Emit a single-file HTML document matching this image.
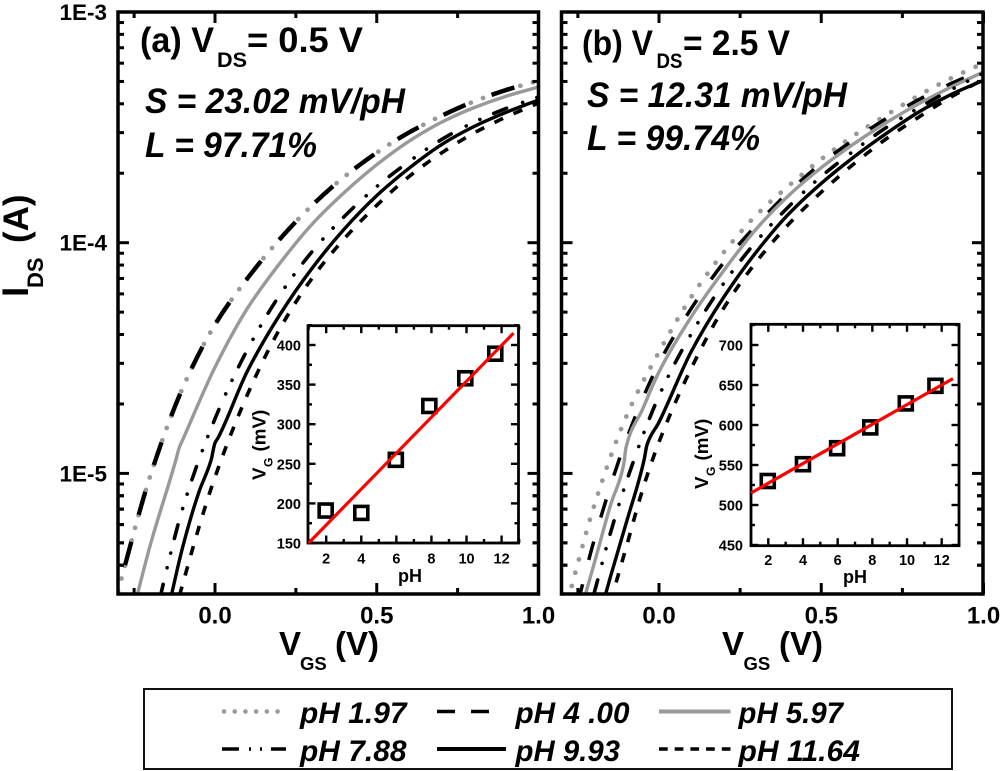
<!DOCTYPE html>
<html lang="en">
<head>
<meta charset="utf-8">
<title>IDS vs VGS at two drain voltages</title>
<style>
html,body{margin:0;padding:0;background:#fff;}
svg{display:block;}
text{font-family:"Liberation Sans",Arial,sans-serif;font-weight:bold;fill:#000;}
.it{font-style:italic;}
</style>
</head>
<body>
<svg id="chart" xmlns="http://www.w3.org/2000/svg" width="1000" height="771" viewBox="0 0 1000 771">
  <rect width="1000" height="771" fill="#fff"/>
  <defs>
    <clipPath id="clipA"><rect x="118" y="12" width="420.5" height="582"/></clipPath>
    <clipPath id="clipB"><rect x="561.5" y="12" width="421.5" height="582"/></clipPath>
  </defs>
  <g id="panelA"></g>
  <g id="panelB"></g>

  <text font-size="37" transform="translate(28,297) rotate(-90)">I</text>
  <text font-size="22" transform="translate(43,288) rotate(-90)">DS</text>
  <text font-size="35" transform="translate(28,243) rotate(-90)">(A)</text>

  <text x="140" y="52" font-size="35" textLength="74" lengthAdjust="spacingAndGlyphs">(a) V</text>
  <text x="217" y="67" font-size="21.5" textLength="30" lengthAdjust="spacingAndGlyphs">DS</text>
  <text x="247" y="52" font-size="35.5" textLength="116" lengthAdjust="spacingAndGlyphs">= 0.5 V</text>
  <text class="it" x="145" y="113" font-size="35" textLength="260" lengthAdjust="spacingAndGlyphs">S = 23.02 mV/pH</text>
  <text class="it" x="145" y="157" font-size="35" textLength="172" lengthAdjust="spacingAndGlyphs">L = 97.71%</text>

  <text x="582" y="55" font-size="35" textLength="71" lengthAdjust="spacingAndGlyphs">(b) V</text>
  <text x="656.5" y="68" font-size="21.5" textLength="26" lengthAdjust="spacingAndGlyphs">DS</text>
  <text x="683" y="55" font-size="35" textLength="107" lengthAdjust="spacingAndGlyphs">= 2.5 V</text>
  <text class="it" x="587" y="107" font-size="35" textLength="260" lengthAdjust="spacingAndGlyphs">S = 12.31 mV/pH</text>
  <text class="it" x="587" y="150" font-size="35" textLength="173" lengthAdjust="spacingAndGlyphs">L = 99.74%</text>

  <text x="279" y="655" font-size="33">V</text>
  <text x="300" y="670" font-size="18.5">GS</text>
  <text x="335" y="655" font-size="33">(V)</text>
  <text x="722" y="655" font-size="33">V</text>
  <text x="743.5" y="670" font-size="18.5">GS</text>
  <text x="779" y="655" font-size="33">(V)</text>

  <g>
    <rect x="144" y="689" width="808" height="80" fill="#fff" stroke="#111" stroke-width="2"/>
    <line x1="224" y1="711.5" x2="288" y2="711.5" stroke="#999" stroke-width="4.5" stroke-linecap="round" stroke-dasharray="0.1 10.6"/>
    <text class="it" x="300" y="723" font-size="30" textLength="106.5" lengthAdjust="spacingAndGlyphs">pH 1.97</text>
    <line x1="437" y1="711.5" x2="489" y2="711.5" stroke="#000" stroke-width="3.5" stroke-dasharray="18 16 18"/>
    <text class="it" x="515.5" y="723" font-size="30" textLength="114" lengthAdjust="spacingAndGlyphs">pH 4 .00</text>
    <line x1="659" y1="711.5" x2="730.5" y2="711.5" stroke="#999" stroke-width="4"/>
    <text class="it" x="738.5" y="723" font-size="30" textLength="104.5" lengthAdjust="spacingAndGlyphs">pH 5.97</text>
    <line x1="222" y1="749" x2="286" y2="749" stroke="#000" stroke-width="3.5" stroke-dasharray="17 10 2 9 2 9 16"/>
    <text class="it" x="300" y="761" font-size="30" textLength="106.5" lengthAdjust="spacingAndGlyphs">pH 7.88</text>
    <line x1="437" y1="749" x2="506" y2="749" stroke="#000" stroke-width="4"/>
    <text class="it" x="515.5" y="761" font-size="30" textLength="104.5" lengthAdjust="spacingAndGlyphs">pH 9.93</text>
    <line x1="659" y1="749" x2="730.5" y2="749" stroke="#000" stroke-width="3.5" stroke-dasharray="8.7 7"/>
    <text class="it" x="738.5" y="761" font-size="30" textLength="121.5" lengthAdjust="spacingAndGlyphs">pH 11.64</text>
  </g>
</svg>
<script>
// ---- Main plot axes data ----
const xTickValues = [0, 0.5, 1];
const xTickLabels = ['0.0', '0.5', '1.0'];
const xMinorValues = [-0.25, 0.25, 0.75];
const yTickLogs = [-3, -4, -5];
const yTickLabels = ['1E-3', '1E-4', '1E-5'];

// ---- Panel (a): V_GS in volts, log10(I_DS in amps) ----
const aV197 = [-0.3,-0.2,-0.1,0,0.1,0.2,0.3,0.4,0.5,0.6,0.7,0.8,0.9,1.0];
const aI197 = [-5.51,-5.01,-4.63,-4.355,-4.155,-3.985,-3.838,-3.714,-3.61,-3.522,-3.45,-3.388,-3.338,-3.298];
const aV400 = [-0.3,-0.2,-0.1,0,0.1,0.2,0.3,0.4,0.5,0.6,0.7,0.8,0.9,1.0];
const aI400 = [-5.51,-5.01,-4.63,-4.355,-4.155,-3.985,-3.838,-3.714,-3.61,-3.522,-3.45,-3.388,-3.338,-3.298];
const aV597 = [-0.25,-0.2,-0.121,-0.111,-0.1,0,0.1,0.2,0.3,0.4,0.5,0.6,0.7,0.8,0.9,1.0];
const aI597 = [-5.58,-5.31,-4.942,-4.89,-4.855,-4.54,-4.285,-4.09,-3.92,-3.782,-3.662,-3.56,-3.478,-3.415,-3.365,-3.325];
const aV788 = [-0.17,-0.15,-0.1,0,0.1,0.2,0.3,0.4,0.5,0.6,0.7,0.8,0.9,1.0];
const aI788 = [-5.54,-5.42,-5.152,-4.763,-4.464,-4.227,-4.039,-3.886,-3.757,-3.648,-3.553,-3.478,-3.418,-3.368];
const aV993 = [-0.14,-0.1,-0.05,-0.012,0,0.009,0.1,0.2,0.3,0.4,0.5,0.6,0.7,0.8,0.9,1.0];
const aI993 = [-5.56,-5.32,-5.082,-4.942,-4.868,-4.847,-4.557,-4.313,-4.111,-3.94,-3.796,-3.677,-3.575,-3.497,-3.435,-3.381];
const aV1164 = [-0.11,-0.05,0,0.1,0.2,0.3,0.4,0.5,0.6,0.7,0.8,0.9,1.0];
const aI1164 = [-5.53,-5.235,-5.016,-4.659,-4.374,-4.154,-3.982,-3.838,-3.713,-3.611,-3.525,-3.455,-3.395];

// ---- Panel (b) ----
const bV197 = [-0.28,-0.2,-0.1,0,0.1,0.2,0.3,0.4,0.5,0.6,0.7,0.8,0.9,1.0];
const bI197 = [-5.545,-5.141,-4.751,-4.474,-4.234,-4.041,-3.88,-3.753,-3.638,-3.536,-3.447,-3.362,-3.287,-3.222];
const bV400 = [-0.25,-0.2,-0.1,0,0.1,0.2,0.3,0.4,0.5,0.6,0.7,0.8,0.9,1.0];
const bI400 = [-5.56,-5.29,-4.851,-4.523,-4.284,-4.085,-3.924,-3.78,-3.656,-3.554,-3.462,-3.38,-3.31,-3.25];
const bV597 = [-0.25,-0.2,-0.15,-0.108,-0.102,-0.05,0,0.1,0.2,0.3,0.4,0.5,0.6,0.7,0.8,0.9,1.0];
const bI597 = [-5.64,-5.392,-5.14,-4.955,-4.89,-4.72,-4.56,-4.32,-4.12,-3.94,-3.795,-3.675,-3.572,-3.48,-3.398,-3.325,-3.26];
const bV788 = [-0.2,-0.15,-0.1,0,0.1,0.2,0.3,0.4,0.5,0.6,0.7,0.8,0.9,1.0];
const bI788 = [-5.52,-5.26,-5.034,-4.664,-4.394,-4.175,-3.994,-3.843,-3.713,-3.602,-3.501,-3.416,-3.337,-3.265];
const bV993 = [-0.17,-0.15,-0.1,-0.046,-0.037,0,0.1,0.2,0.3,0.4,0.5,0.6,0.7,0.8,0.9,1.0];
const bI993 = [-5.55,-5.45,-5.21,-4.942,-4.876,-4.778,-4.47,-4.235,-4.04,-3.875,-3.743,-3.629,-3.527,-3.434,-3.358,-3.296];
const bV1164 = [-0.15,-0.1,-0.05,0,0.1,0.2,0.3,0.4,0.5,0.6,0.7,0.8,0.9,1.0];
const bI1164 = [-5.56,-5.315,-5.068,-4.864,-4.543,-4.282,-4.083,-3.919,-3.781,-3.659,-3.55,-3.456,-3.368,-3.292];

// ---- Insets ----
const insetPh = [1.97, 4.00, 5.97, 7.88, 9.93, 11.64];
const insetAVg = [191, 188, 255, 323, 358, 389];
const insetBVg = [530, 551, 571, 597, 627, 649];
const insetAFitPh = [1.0, 12.68];
const insetAFitVg = [150, 415];
const insetBFitPh = [1.0, 12.65];
const insetBFitVg = [515, 658];
const insetXTicks = [2, 4, 6, 8, 10, 12];
const insetXMinor = [1, 3, 5, 7, 9, 11, 13];
const insetATicks = [150, 200, 250, 300, 350, 400];
const insetAMinor = [175, 225, 275, 325, 375, 425];
const insetBTicks = [450, 500, 550, 600, 650, 700];
const insetBMinor = [475, 525, 575, 625, 675, 725];

const NS = 'http://www.w3.org/2000/svg';
function mk(parent, tag, attrs, txt) {
  const el = document.createElementNS(NS, tag);
  for (const k in attrs) el.setAttribute(k, attrs[k]);
  if (txt !== undefined) el.textContent = txt;
  parent.appendChild(el);
  return el;
}
// Monotone cubic through points ordered by x (Fritsch-Butland tangents).
function smoothPath(pts) {
  const n = pts.length, d = [], m = [];
  for (let i = 0; i < n - 1; i++) d[i] = (pts[i + 1][1] - pts[i][1]) / (pts[i + 1][0] - pts[i][0]);
  m[0] = d[0];
  m[n - 1] = d[n - 2];
  for (let i = 1; i < n - 1; i++) {
    const h0 = pts[i][0] - pts[i - 1][0], h1 = pts[i + 1][0] - pts[i][0];
    const w1 = 2 * h1 + h0, w2 = h1 + 2 * h0;
    m[i] = (d[i - 1] * d[i] <= 0) ? 0 : (w1 + w2) / (w1 / d[i - 1] + w2 / d[i]);
  }
  let path = 'M' + pts[0][0].toFixed(2) + ' ' + pts[0][1].toFixed(2);
  for (let i = 0; i < n - 1; i++) {
    const h = (pts[i + 1][0] - pts[i][0]) / 3;
    path += 'C' + (pts[i][0] + h).toFixed(2) + ' ' + (pts[i][1] + m[i] * h).toFixed(2) + ' ' +
      (pts[i + 1][0] - h).toFixed(2) + ' ' + (pts[i + 1][1] - m[i + 1] * h).toFixed(2) + ' ' +
      pts[i + 1][0].toFixed(2) + ' ' + pts[i + 1][1].toFixed(2);
  }
  return path;
}

const yMain = function (log) { return 12 + (-3 - log) * 230.7; };

function drawPanel(host, key, clipId, x0, pxPerV, left, right, series) {
  const xMain = function (v) { return x0 + v * pxPerV; };
  const top = 12, bottom = 594;
  const curves = mk(host, 'g', { 'clip-path': 'url(#' + clipId + ')' });
  
  
  series.forEach(function (s) {
    const pts = s.v.map(function (v, i) { return [xMain(v), yMain(s.i[i])]; });
    const path = mk(curves, 'path', {
      d: smoothPath(pts), fill: 'none', stroke: s.color, 'stroke-width': s.width,
      'stroke-linecap': s.cap, 'stroke-dasharray': s.dash, 'stroke-dashoffset': s.off
    });
    
    
  });
  const ticks = mk(host, 'g', { stroke: '#000', 'stroke-width': 3 });
  
  
  xTickValues.forEach(function (v) {
    mk(ticks, 'line', { x1: xMain(v), x2: xMain(v), y1: bottom, y2: bottom - 11 });
    mk(ticks, 'line', { x1: xMain(v), x2: xMain(v), y1: top, y2: top + 11 });
  });
  xMinorValues.forEach(function (v) {
    mk(ticks, 'line', { x1: xMain(v), x2: xMain(v), y1: bottom, y2: bottom - 6 });
    mk(ticks, 'line', { x1: xMain(v), x2: xMain(v), y1: top, y2: top + 6 });
  });
  yTickLogs.forEach(function (lg) {
    const y = yMain(lg);
    mk(ticks, 'line', { x1: left, x2: left + 11, y1: y, y2: y });
    mk(ticks, 'line', { x1: right, x2: right - 11, y1: y, y2: y });
    for (let m = 2; m <= 9; m++) {
      const ym = yMain(lg - 1 + Math.log10(m));
      if (ym > bottom - 1 || ym < top + 1) continue;
      mk(ticks, 'line', { x1: left, x2: left + 6, y1: ym, y2: ym });
      mk(ticks, 'line', { x1: right, x2: right - 6, y1: ym, y2: ym });
    }
  });
  for (let m = 4; m <= 9; m++) {
    const ym = yMain(-6 + Math.log10(m));
    if (ym > bottom - 1) continue;
    mk(ticks, 'line', { x1: left, x2: left + 6, y1: ym, y2: ym });
    mk(ticks, 'line', { x1: right, x2: right - 6, y1: ym, y2: ym });
  }
  const frame = mk(host, 'rect', { x: left, y: top, width: right - left, height: bottom - top, fill: 'none', stroke: '#000', 'stroke-width': 3.5 });
  
  
  xTickValues.forEach(function (v, i) {
    const t = mk(host, 'text', { x: xMain(v), y: 623.5, 'font-size': 24, 'text-anchor': 'middle' }, xTickLabels[i]);
    
    
  });
}

function drawInset(host, key, box, xScaleInfo, yScaleInfo, yTicks, yMinor, ph, vg, fitPh, fitVg, lab) {
  const xI = function (p) { return xScaleInfo.x2 + (p - 2) * xScaleInfo.k; };
  const yI = function (val) { return yScaleInfo.y0 - (val - yScaleInfo.v0) * yScaleInfo.k; };
  const frame = mk(host, 'rect', { x: box.l, y: box.t, width: box.r - box.l, height: box.b - box.t, fill: '#fff', stroke: '#000', 'stroke-width': 2.8 });
  
  
  const ticks = mk(host, 'g', { stroke: '#000', 'stroke-width': 2.4 });
  
  
  insetXTicks.forEach(function (p) {
    mk(ticks, 'line', { x1: xI(p), x2: xI(p), y1: box.b, y2: box.b - 7.5 });
    mk(ticks, 'line', { x1: xI(p), x2: xI(p), y1: box.t, y2: box.t + 7.5 });
    const t = mk(host, 'text', { x: xI(p), y: lab.xTickY, 'font-size': 14.5, 'text-anchor': 'middle' }, String(p));
    
    
  });
  insetXMinor.forEach(function (p) {
    mk(ticks, 'line', { x1: xI(p), x2: xI(p), y1: box.b, y2: box.b - 4 });
    mk(ticks, 'line', { x1: xI(p), x2: xI(p), y1: box.t, y2: box.t + 4 });
  });
  yTicks.forEach(function (val) {
    mk(ticks, 'line', { x1: box.l, x2: box.l + 7.5, y1: yI(val), y2: yI(val) });
    mk(ticks, 'line', { x1: box.r, x2: box.r - 7.5, y1: yI(val), y2: yI(val) });
    const t = mk(host, 'text', { x: lab.yTickX, y: yI(val) + 5.5, 'font-size': 14.5, 'text-anchor': 'end' }, String(val));
    
    
  });
  yMinor.forEach(function (val) {
    mk(ticks, 'line', { x1: box.l, x2: box.l + 4, y1: yI(val), y2: yI(val) });
    mk(ticks, 'line', { x1: box.r, x2: box.r - 4, y1: yI(val), y2: yI(val) });
  });
  ph.forEach(function (p, i) {
    const sq = mk(host, 'rect', { x: xI(p) - 6.5, y: yI(vg[i]) - 6.5, width: 13, height: 13, fill: 'none', stroke: '#000', 'stroke-width': 3.6 });
    
    
  });
  const fit = mk(host, 'line', { x1: xI(fitPh[0]), y1: yI(fitVg[0]), x2: xI(fitPh[1]), y2: yI(fitVg[1]), stroke: '#f00', 'stroke-width': 3.2 });
  
  
  const xt = mk(host, 'text', { x: lab.pHX, y: lab.pHY, 'font-size': 18, 'text-anchor': 'middle' }, 'pH');
  
  
  const y1 = mk(host, 'text', { 'font-size': 18.8, transform: 'translate(' + lab.vgX + ',' + lab.vgY + ') rotate(-90)' }, 'V');
  
  
  const y2 = mk(host, 'text', { 'font-size': 12, transform: 'translate(' + (lab.vgX + 7) + ',' + (lab.vgY - 13) + ') rotate(-90)' }, 'G');
  
  
  const y3 = mk(host, 'text', { 'font-size': 18.8, transform: 'translate(' + lab.vgX + ',' + (lab.vgY - 28.5) + ') rotate(-90)' }, '(mV)');
  
  
}

function makeSeries(dot, dash4, off4, w4, v1, i1, v2, i2, v3, i3, v4, i4, v5, i5, v6, i6) {
  return [
    { id: 'ph-1-97', v: v1, i: i1, color: '#999', width: 4.7, cap: 'round', dash: dot, off: 0 },
    { id: 'ph-4-00', v: v2, i: i2, color: '#000', width: w4, cap: 'butt', dash: dash4, off: off4 },
    { id: 'ph-5-97', v: v3, i: i3, color: '#999', width: 3.4, cap: 'butt', dash: 'none', off: 0 },
    { id: 'ph-7-88', v: v4, i: i4, color: '#000', width: 3.6, cap: 'round', dash: '14 17 0.1 15 0.1 15', off: 0 },
    { id: 'ph-9-93', v: v5, i: i5, color: '#000', width: 3.4, cap: 'butt', dash: 'none', off: 0 },
    { id: 'ph-11-64', v: v6, i: i6, color: '#000', width: 3.6, cap: 'butt', dash: '9.5 11.5', off: 0 }
  ];
}

const hostA = document.getElementById('panelA');
const hostB = document.getElementById('panelB');

drawPanel(hostA, 'panel-a', 'clipA', 215, 323.5, 118, 538.5,
  makeSeries('0.1 13', '24 28', 25, 4.4, aV197, aI197, aV400, aI400, aV597, aI597, aV788, aI788, aV993, aI993, aV1164, aI1164));
drawPanel(hostB, 'panel-b', 'clipB', 659, 324.5, 561.5, 983,
  makeSeries('0.1 13.6', '19 25', 0, 3.5, bV197, bI197, bV400, bI400, bV597, bI597, bV788, bI788, bV993, bI993, bV1164, bI1164));

drawInset(hostA, 'panel-a', { l: 308, r: 518.5, t: 325.7, b: 543 },
  { x2: 326.2, k: 17.54 }, { y0: 543, v0: 150, k: 0.792 },
  insetATicks, insetAMinor, insetPh, insetAVg, insetAFitPh, insetAFitVg,
  { xTickY: 563.5, yTickX: 301, pHX: 410, pHY: 582, vgX: 265.5, vgY: 480 });
drawInset(hostB, 'panel-b', { l: 751, r: 959, t: 324.3, b: 545.7 },
  { x2: 768.3, k: 17.34 }, { y0: 545, v0: 450, k: 0.8 },
  insetBTicks, insetBMinor, insetPh, insetBVg, insetBFitPh, insetBFitVg,
  { xTickY: 565, yTickX: 743, pHX: 855, pHY: 583, vgX: 708, vgY: 489 });

yTickLogs.forEach(function (lg, i) {
  const t = mk(hostA, 'text', { x: 107, y: yMain(lg) + 8, 'font-size': 22.5, 'text-anchor': 'end' }, yTickLabels[i]);
  
  
});
</script>
</body>
</html>
